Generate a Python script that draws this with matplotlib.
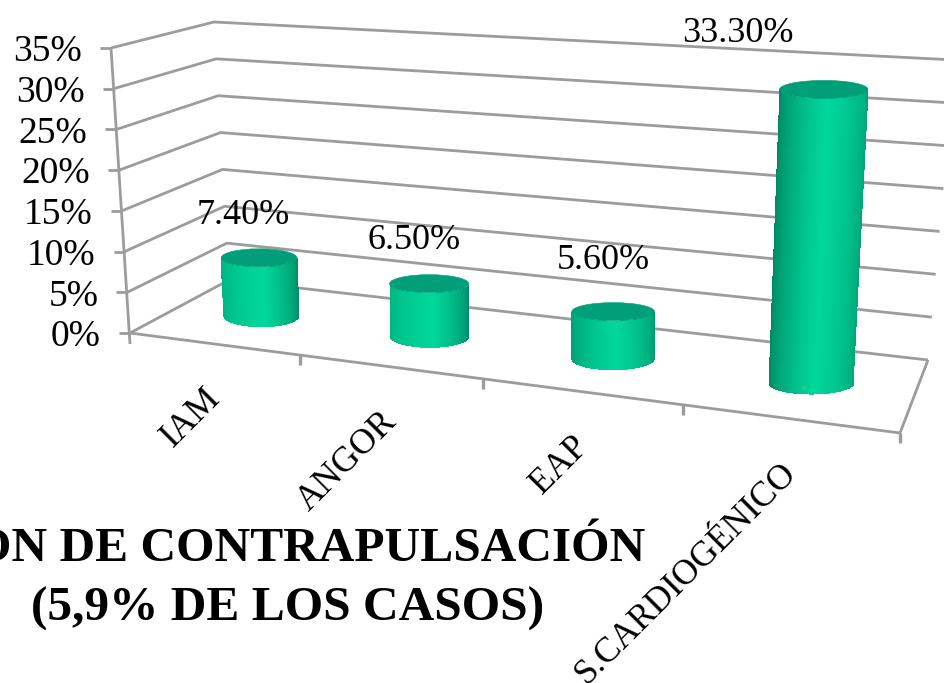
from __future__ import annotations

import matplotlib

matplotlib.use("Agg")
import matplotlib.pyplot as plt
import numpy as np
from matplotlib.patches import Ellipse

CATEGORIES = ["IAM", "ANGOR", "EAP", "S.CARDIOGÉNICO"]
VALUES = [7.4, 6.5, 5.6, 33.3]
VALUE_LABELS = ["7.40%", "6.50%", "5.60%", "33.30%"]
AXIS_TICKS = [0, 5, 10, 15, 20, 25, 30, 35]
TITLE_LINES = ["ON DE CONTRAPULSACIÓN", "(5,9% DE LOS CASOS)"]

W, H = 944, 683
GRID = "#9c9c9c"
SERIF = "Liberation Serif"

# box corners in pixels: floor and 35% level, front and back
FL, FR, BL, BR = map(np.array, [(130.0, 333.0), (900.0, 433.0), (229.0, 280.0), (928.0, 360.0)])
FL_T, FR_T, BL_T, BR_T = map(np.array, [(111.0, 48.0), (910.0, 102.0), (214.0, 22.0), (955.0, 60.0)])
WARP = 1.18
YMAX = 35.0

# text placement, size and shading for each bar
LABEL_SHIFT = [(-13, -42), (-12, -43), (-7, -51), (-83, -56)]
BAR_HALF = [0.058, 0.056, 0.054, 0.051]
BAR_NUDGE = 3.0
EDGE_SHADE = [(0.72, 0.42), (0.72, 0.40), (0.55, 0.55), (0.35, 0.62)]
LIGHT = np.array([0, 216, 155]) / 255
DARK = np.array([0, 84, 62]) / 255
TOP_COLOR = "#009f79"


def lerp(a, b, t):
    return a + (b - a) * t


def project(u: float, depth: float, value: float) -> np.ndarray:
    s = u / (u + WARP * (1 - u))
    floor = lerp(lerp(FL, FR, s), lerp(BL, BR, s), depth)
    top = lerp(lerp(FL_T, FR_T, s), lerp(BL_T, BR_T, s), depth)
    return lerp(floor, top, value / YMAX)


def shade(f: float, left: float, right: float) -> np.ndarray:
    # f runs 0..1 across the cylinder, brightest a little right of the middle
    peak = 0.55
    if f < peak:
        k = lerp(left, 1.0, (f / peak) ** 0.6)
    else:
        k = lerp(right, 1.0, ((1 - f) / (1 - peak)) ** 0.6)
    return lerp(DARK, LIGHT, k)


def draw_cylinder(ax, u: float, half: float, value: float, edges: tuple[float, float]) -> None:
    base = project(u, 0.5, 0) + (BAR_NUDGE, 0)
    top = project(u, 0.5, value) + (BAR_NUDGE, 0)
    base_hw = (project(u + half, 0.5, 0)[0] - project(u - half, 0.5, 0)[0]) / 2
    top_hw = (project(u + half, 0.5, value)[0] - project(u - half, 0.5, value)[0]) / 2
    base_hh, top_hh = 11.0, 9.0
    angles = np.linspace(np.pi, 0, 161)
    xs = np.vstack([base[0] + base_hw * np.cos(angles), top[0] + top_hw * np.cos(angles)])
    ys = np.vstack([base[1] + base_hh * np.sin(angles), top[1] + top_hh * np.sin(angles)])
    mids = (angles[:-1] + angles[1:]) / 2
    colors = np.array([shade((np.cos(a) + 1) / 2, *edges) for a in mids])[np.newaxis, :, :]
    ax.pcolormesh(xs, ys, colors, shading="flat", antialiased=False, zorder=3)
    ax.add_patch(Ellipse(top, 2 * top_hw, 2 * top_hh, fc=TOP_COLOR, ec=TOP_COLOR, lw=0.4, zorder=4))


def polyline(ax, *points, lw=2.0) -> None:
    pts = np.array(points)
    ax.plot(pts[:, 0], pts[:, 1], color=GRID, lw=lw, solid_capstyle="butt", zorder=1)


def main() -> None:
    fig = plt.figure(figsize=(W / 100, H / 100), dpi=100)
    ax = fig.add_axes([0, 0, 1, 1])
    ax.axis("off")

    # walls and floor
    for tick in AXIS_TICKS:
        left = project(0, 0, tick)
        polyline(ax, left, project(0, 1, tick), project(1, 1, tick))
        polyline(ax, left + (-11, 0), left)
        ax.text(left[0] - 29, left[1] + 4, f"{tick}%", family=SERIF, fontsize=27,
                ha="right", va="center", color="black", zorder=6)
    polyline(ax, project(0, 0, YMAX), project(0, 0, 0) + (0, 11))
    polyline(ax, project(0, 0, 0), project(1, 0, 0), project(1, 1, 0))

    n = len(CATEGORIES)
    for i in range(1, n + 1):
        foot = project(i / n, 0, 0)
        polyline(ax, foot, foot + (0, 10), lw=2.4)

    for i, (name, value, text) in enumerate(zip(CATEGORIES, VALUES, VALUE_LABELS)):
        u = (i + 0.5) / n
        draw_cylinder(ax, u, BAR_HALF[i], value, EDGE_SHADE[i])
        top = project(u, 0.5, value)
        dx, dy = LABEL_SHIFT[i]
        ax.text(top[0] + dx, top[1] + dy, text, family=SERIF, fontsize=26,
                ha="center", va="center", color="black", zorder=6)
        foot = project(u, 0, 0)
        ax.text(foot[0] + 2, foot[1] + 50, name, family=SERIF, fontsize=25.5, rotation=45,
                rotation_mode="anchor", ha="right", va="center", color="black", zorder=6)

    ax.text(645, 549, TITLE_LINES[0], family=SERIF, fontsize=35.6, fontweight="bold",
            ha="right", va="center", color="black", zorder=7)
    ax.text(288, 609, TITLE_LINES[1], family=SERIF, fontsize=35.6, fontweight="bold",
            ha="center", va="center", color="black", zorder=7)

    ax.set_xlim(0, W)
    ax.set_ylim(H, 0)
    fig.savefig("out.png", dpi=100)
    plt.close(fig)


if __name__ == "__main__":
    main()
